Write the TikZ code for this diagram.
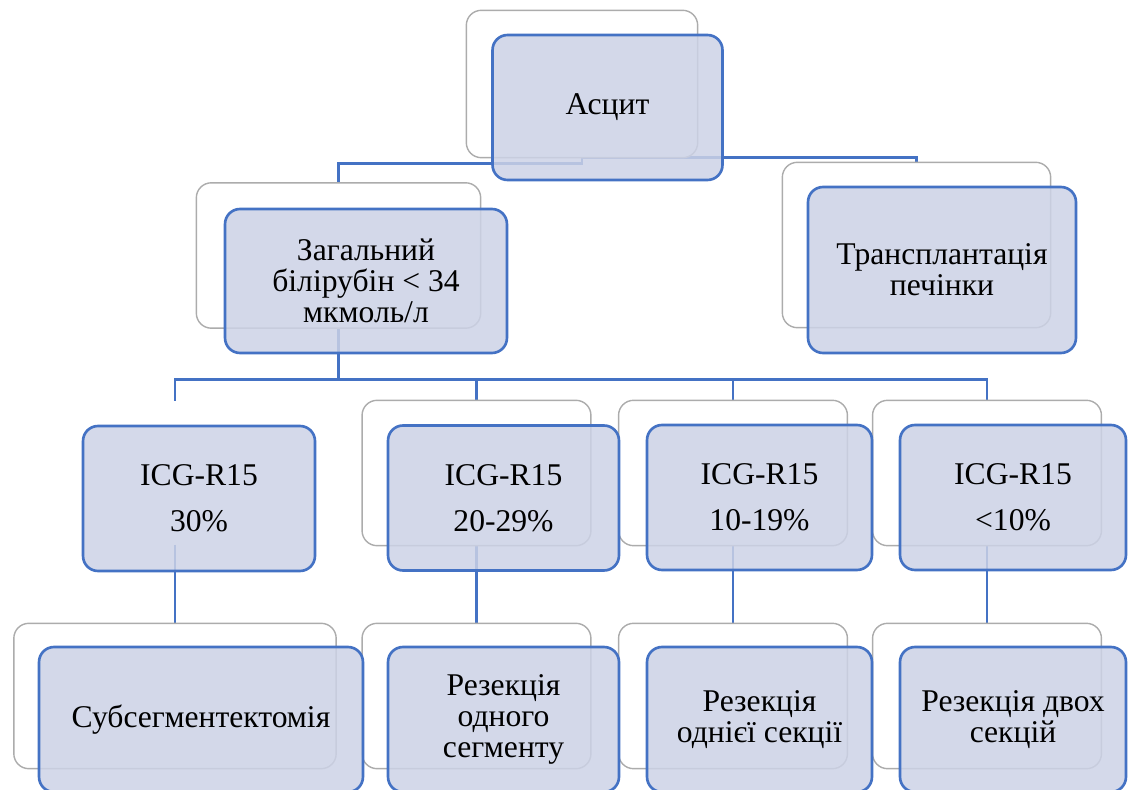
\documentclass[tikz,border=0pt]{standalone}
\usepackage{fontspec}
\setmainfont{Liberation Serif}
\newfontfamily\boxfont{LiberationSerif-Regular.ttf}
\usepackage{tikz}
\usetikzlibrary{positioning}
\definecolor{boxfill}{RGB}{204,210,230}
\definecolor{boxline}{RGB}{68,114,196}
\tikzset{
  back/.style = {draw=gray!65, fill=white, line width=0.8pt,
    rounded corners=0.3cm, minimum width=4.55cm, minimum height=2.88cm},
  front/.style = {draw=boxline, fill=boxfill, fill opacity=0.85,
    text opacity=1, line width=1.5pt, rounded corners=0.3cm,
    minimum width=4.6cm, minimum height=2.9cm, align=center,
    font=\boxfont\fontsize{18}{17.5}\selectfont},
  conn/.style = {draw=boxline, line width=1.5pt}
}

\begin{document}
\begin{tikzpicture}[x=0.02cm, y=-0.02cm]
\clip (0,0) rectangle (1130,790);
% back boxes
\node [back, minimum width=4.6cm, minimum height=2.92cm] (ab) at (582,84) {};
\node [back, minimum width=5.66cm] (zb) at (338.5,255.5) {};
\node [back, minimum width=5.34cm, minimum height=3.28cm] (tb) at (916.5,245) {};
\coordinate (i30t) at (175,401);
\coordinate (i30s) at (175,545);
\node [back] (i20b) at (476.5,473) {};
\node [back] (i10b) at (733,473) {};
\node [back] (i0b) at (987,473) {};
\node [back, minimum width=6.42cm] (sb) at (175,696) {};
\node [back] (r1b) at (476.5,696) {};
\node [back] (r2b) at (733,696) {};
\node [back] (r3b) at (987,696) {};

% connectors
\draw [conn] (ab.south) -| (tb.north);
\draw [conn] (ab.south) -- ++(0,6) -| (zb.north);
\draw [conn] (zb.south) -- ++(0,51) -| (i30t);
\draw [conn] (zb.south) -- ++(0,51) -| (i20b.north);
\draw [conn] (zb.south) -- ++(0,51) -| (i10b.north);
\draw [conn] (zb.south) -- ++(0,51) -| (i0b.north);
\draw [conn] (i30s) -- (sb.north);
\draw [conn] (i20b.south) -- (r1b.north);
\draw [conn] (i10b.south) -- (r2b.north);
\draw [conn] (i0b.south) -- (r3b.north);

% redraw back boxes over the lines
\foreach \b in {ab, zb, tb, i20b, i10b, i0b, sb, r1b, r2b, r3b}
  \path [back] (\b.north west) rectangle (\b.south east);

% front boxes
\node [front] (a) at (607.5,107.5) {Асцит};
\node [front, minimum width=5.64cm, minimum height=2.88cm] (z) at (366,281)
  {Загальний\\білірубін < 34\\мкмоль/л};
\node [front, minimum width=5.36cm, minimum height=3.32cm] (t) at (942,270)
  {Трансплантація\\печінки};
\node [front, minimum width=4.64cm] (i30) at (199,498.5) {ICG-R15\\[8.5pt]30\%};
\node [front, minimum width=4.62cm] (i20) at (503.5,498) {ICG-R15\\[8.5pt]20-29\%};
\node [front, minimum width=4.5cm] (i10) at (759.5,497.5) {ICG-R15\\[8.5pt]10-19\%};
\node [front, minimum width=4.52cm] (i0) at (1013,497.5) {ICG-R15\\[8.5pt]<10\%};
\node [front, minimum width=6.48cm] (s) at (201,719.5) {Субсегментектомія};
\node [front, minimum width=4.62cm] (r1) at (503.5,719.5)
  {Резекція\\одного\\сегменту};
\node [front, minimum width=4.5cm] (r2) at (759.5,719.5)
  {Резекція\\однієї секції};
\node [front, minimum width=4.52cm] (r3) at (1013,719.5)
  {Резекція двох\\секцій};
\end{tikzpicture}
\end{document}
